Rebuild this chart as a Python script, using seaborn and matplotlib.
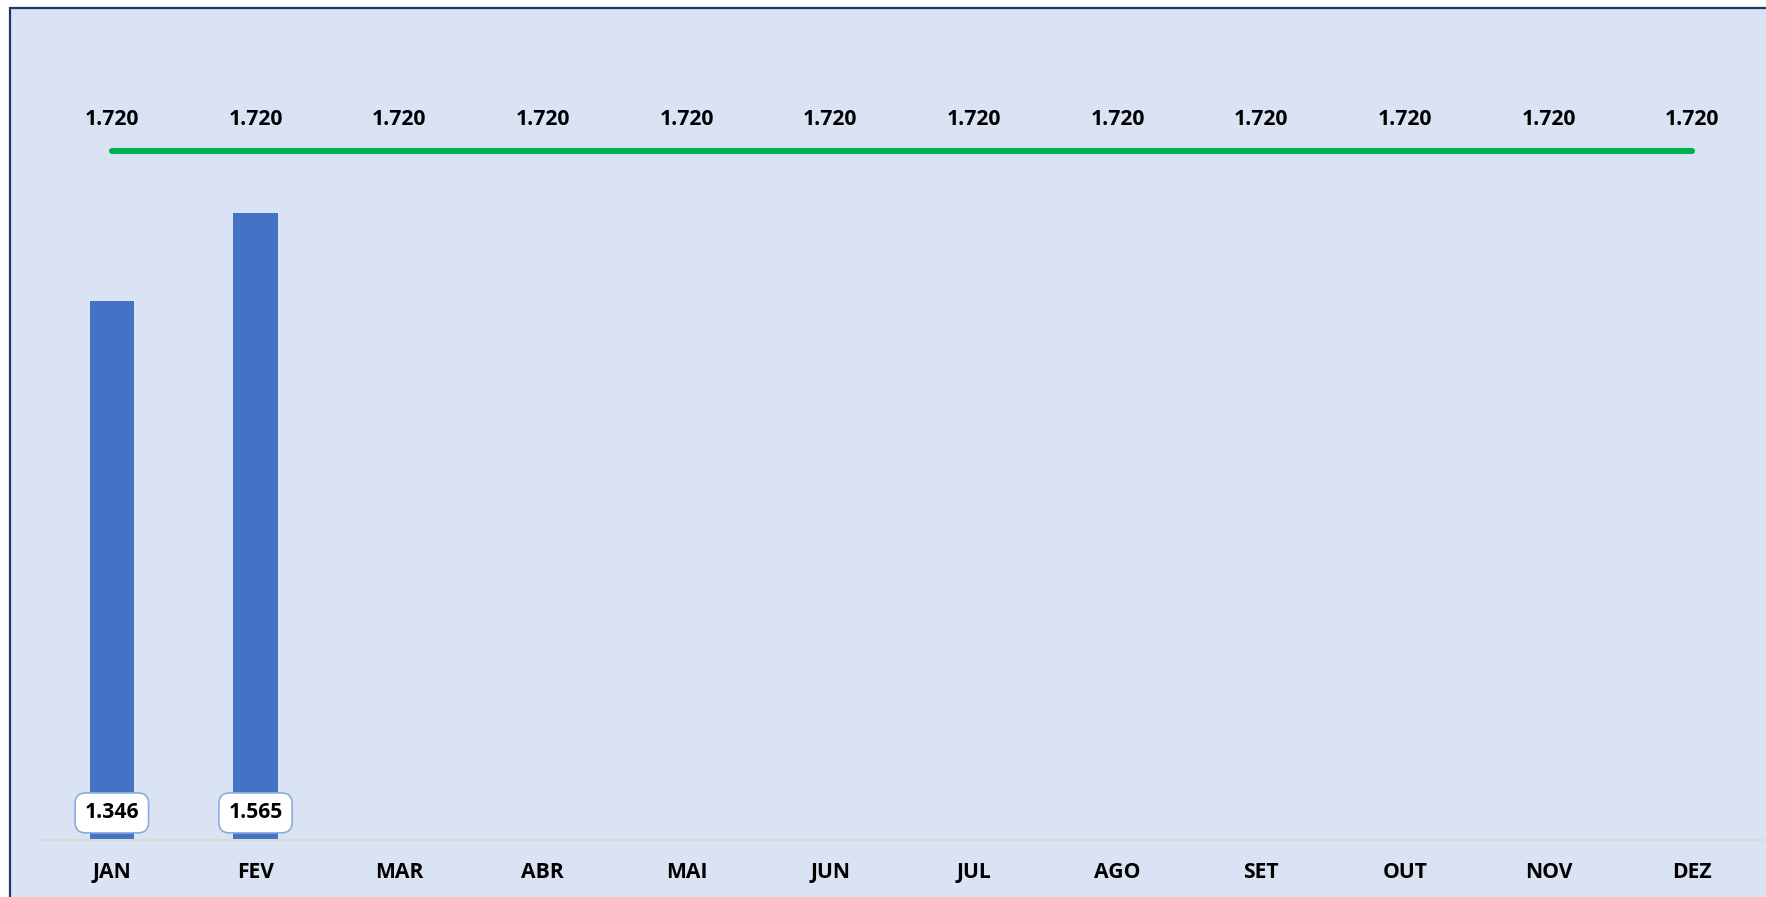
import numpy as np
import pandas as pd
import matplotlib
matplotlib.use("Agg")
import matplotlib.pyplot as plt
import seaborn as sns
from matplotlib.patches import Rectangle

meses = ['JAN', 'FEV', 'MAR', 'ABR', 'MAI', 'JUN', 'JUL', 'AGO', 'SET', 'OUT', 'NOV', 'DEZ']
realizado = [1346, 1565, np.nan, np.nan, np.nan, np.nan, np.nan, np.nan, np.nan, np.nan, np.nan, np.nan]
meta = [1720] * 12

df = pd.DataFrame({'mes': meses, 'realizado': realizado, 'meta': meta})

sns.set_theme(style='white')
plt.rcParams['font.family'] = ['Open Sans', 'DejaVu Sans']

W, H = 1766, 897
fig = plt.figure(figsize=(W / 100, H / 100), dpi=100, facecolor='white')

# chart frame (cropped on right/bottom in the original)
fig.patches.append(Rectangle((10 / W, -0.1), 1.2, (H - 8) / H + 0.1,
                             transform=fig.transFigure, facecolor='#DAE3F3',
                             edgecolor='#203864', linewidth=1.6, zorder=-10))

ax = fig.add_axes([40 / W, 57 / H, 1724 / W, (840 - 8) / H])
ax.set_facecolor('none')

sns.barplot(data=df, x='mes', y='realizado', color='#4472C4', width=0.31,
            saturation=1, linewidth=0, ax=ax, zorder=2)
ax.plot(np.arange(len(meses)), df['meta'], color='#00B050', linewidth=4.4,
        solid_capstyle='round', zorder=3)

fs = 15.2
for i, v in enumerate(df['meta']):
    ax.annotate(f"{v:,}".replace(',', '.'), (i, v), xytext=(0, 22.5),
                textcoords='offset points', ha='center', va='center',
                fontsize=fs, fontweight='bold', color='black')

for i, v in enumerate(df['realizado']):
    if np.isnan(v):
        continue
    ax.annotate(f"{int(v):,}".replace(',', '.'), (i, 0), xytext=(0, 19.5),
                textcoords='offset points', ha='center', va='center',
                fontsize=fs, fontweight='bold', color='black', zorder=4,
                bbox=dict(boxstyle='round,pad=0.45,rounding_size=0.5',
                          facecolor='white', edgecolor='#8FAADC', linewidth=1.2))

ax.set_xlim(-0.5, 11.5)
ax.set_ylim(0, 2077)
ax.set_xlabel('')
ax.set_ylabel('')
ax.set_yticks([])
ax.tick_params(axis='x', length=0, pad=16, labelsize=fs)
for lab in ax.get_xticklabels():
    lab.set_fontweight('bold')
    lab.set_color('black')
for s in ['top', 'right', 'left']:
    ax.spines[s].set_visible(False)
ax.spines['bottom'].set_color('#D9D9D9')
ax.spines['bottom'].set_linewidth(1.5)

fig.savefig('out.png', dpi=100)
